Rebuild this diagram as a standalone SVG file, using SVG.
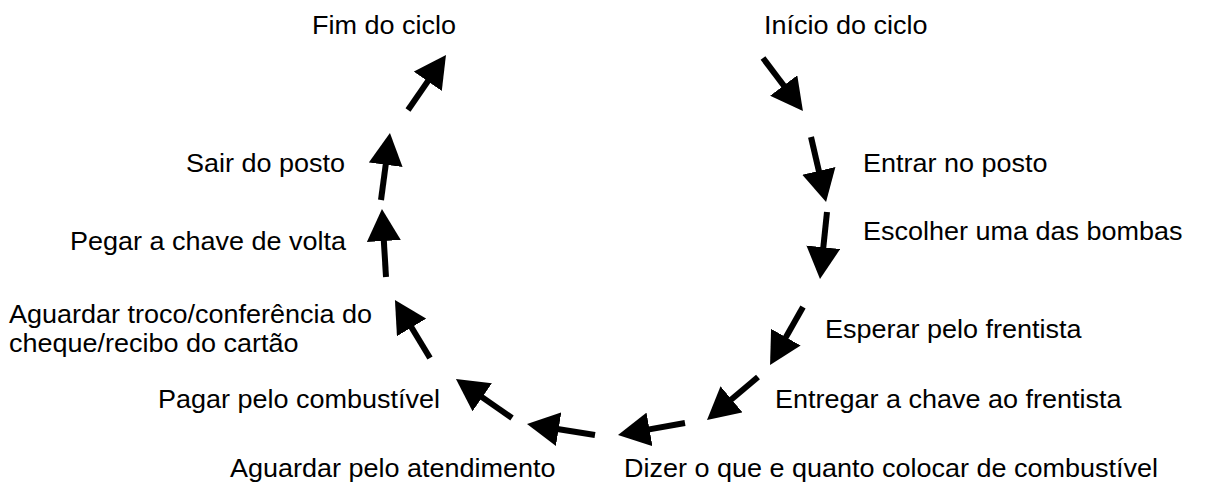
<svg xmlns="http://www.w3.org/2000/svg" width="1205" height="488" viewBox="0 0 1205 488">
<style>
text{font-family:"Liberation Sans",Arial,sans-serif;font-size:25px;fill:#000}
.c line{stroke:#000;stroke-width:6;marker-end:url(#ah)}
</style>
<defs>
<marker id="ah" viewBox="0 0 32 34" markerWidth="32" markerHeight="34" refX="6" refY="17" markerUnits="userSpaceOnUse" orient="auto">
<path d="M0,0 L32,17 L0,34 Z" fill="#000"/>
</marker>
</defs>
<rect width="1205" height="488" fill="#fff"/>
<g id="connectors" class="c">
<line x1="763" y1="58" x2="787.3" y2="90.3"/>
<line x1="811" y1="137" x2="820.2" y2="176.7"/>
<line x1="827" y1="212" x2="822.7" y2="253.2"/>
<line x1="803" y1="307" x2="782.9" y2="342.4"/>
<line x1="758" y1="377" x2="726.9" y2="403.2"/>
<line x1="685" y1="423" x2="643.6" y2="430.4"/>
<line x1="595" y1="435" x2="552.7" y2="428.2"/>
<line x1="512" y1="418" x2="477.3" y2="393.9"/>
<line x1="430" y1="358" x2="408.4" y2="322.3"/>
<line x1="386" y1="277" x2="383.5" y2="235"/>
<line x1="381" y1="200" x2="386.5" y2="158.8"/>
<line x1="408" y1="110" x2="431.2" y2="76.4"/>
</g>
<g id="n-inicio"><text transform="translate(764,34) scale(1.08,1)">Início do ciclo</text></g>
<g id="n-entrar"><text transform="translate(863,172) scale(1.08,1)">Entrar no posto</text></g>
<g id="n-escolher"><text transform="translate(863,240) scale(1.08,1)">Escolher uma das bombas</text></g>
<g id="n-esperar"><text transform="translate(825,338) scale(1.08,1)">Esperar pelo frentista</text></g>
<g id="n-entregar"><text transform="translate(775,408) scale(1.08,1)">Entregar a chave ao frentista</text></g>
<g id="n-dizer"><text transform="translate(624,477) scale(1.08,1)">Dizer o que e quanto colocar de combustível</text></g>
<g id="n-aguardar"><text transform="translate(230,477) scale(1.08,1)">Aguardar pelo atendimento</text></g>
<g id="n-pagar"><text transform="translate(158,408) scale(1.08,1)">Pagar pelo combustível</text></g>
<g id="n-troco"><text transform="translate(9,323) scale(1.08,1)">Aguardar troco/conferência do</text><text transform="translate(9,352) scale(1.08,1)">cheque/recibo do cartão</text></g>
<g id="n-pegar"><text transform="translate(70,250) scale(1.08,1)">Pegar a chave de volta</text></g>
<g id="n-sair"><text transform="translate(186,172) scale(1.08,1)">Sair do posto</text></g>
<g id="n-fim"><text transform="translate(312,34) scale(1.08,1)">Fim do ciclo</text></g>
</svg>
